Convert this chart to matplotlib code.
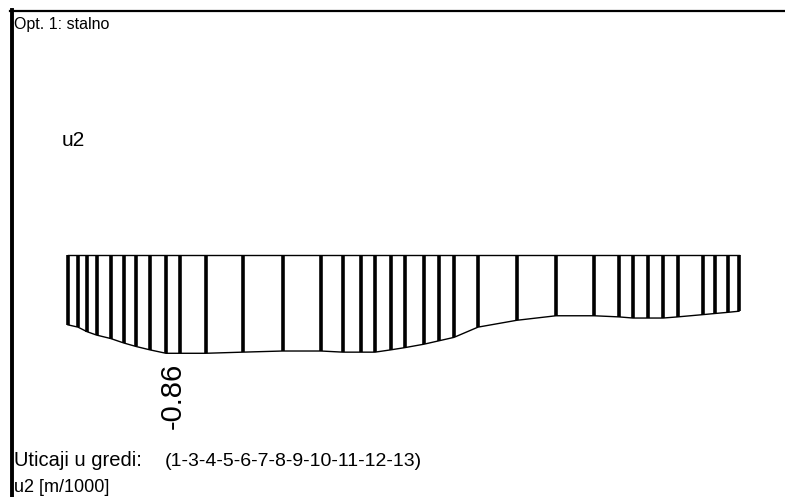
import numpy as np
import matplotlib
matplotlib.use("Agg")
import matplotlib.pyplot as plt
from matplotlib.lines import Line2D

plt.rcParams['font.family'] = ['Liberation Sans', 'DejaVu Sans']

# stanice duz grede (m) i pomeranja u2 [m/1000]
stations = [0.0, 0.5, 0.95, 1.43, 2.13, 2.8, 3.4, 4.1, 4.9, 5.6, 6.88, 8.73,
            10.73, 12.65, 13.75, 14.63, 15.35, 16.13, 16.85, 17.8, 18.55, 19.3,
            20.5, 22.43, 24.4, 26.3, 27.55, 28.25, 29.0, 29.75, 30.48, 31.75,
            32.35, 32.98, 33.55]
u2 = [-0.61, -0.63, -0.67, -0.70, -0.73, -0.77, -0.80, -0.83, -0.86, -0.86,
      -0.86, -0.85, -0.84, -0.84, -0.85, -0.85, -0.85, -0.83, -0.81, -0.78,
      -0.75, -0.72, -0.63, -0.57, -0.53, -0.53, -0.54, -0.55, -0.55, -0.55,
      -0.54, -0.52, -0.51, -0.50, -0.49]

title = "Opt. 1: stalno"
comp = "u2"
beams_lbl = "Uticaji u gredi:"
beams = "(1-3-4-5-6-7-8-9-10-11-12-13)"
unit = "u2 [m/1000]"

W, H = 785, 497
fig = plt.figure(figsize=(W / 100, H / 100), dpi=100)
fig.patch.set_facecolor("white")

def fx(x):
    return x / W

def fy(y):
    return 1 - y / H

# okvir
fig.add_artist(Line2D([fx(10), 1], [fy(11), fy(11)], color="black", lw=1.6))
fig.add_artist(Line2D([fx(12), fx(12)], [fy(10), 0], color="black", lw=2.8))

# dijagram
x = np.array(stations)
u = np.array(u2)
ax = fig.add_axes([fx(68), fy(365), fx(739) - fx(68), fy(245) - fy(365)])
ax.set_xlim(x[0], x[-1])
ax.set_ylim(-0.963, 0.0923)
ax.axis("off")
ax.plot(x, np.zeros_like(x), color="black", lw=1.0, clip_on=False)
ax.plot(x, u, color="black", lw=1.0, clip_on=False)
ax.vlines(x, u, 0, color="black", lw=2.6, clip_on=False)

imin = int(np.argmin(u))
ax.annotate(f"{u[imin]:.2f}", xy=(x[imin], u[imin]), xytext=(7, -9),
            textcoords="offset pixels", rotation=90, ha="center", va="top",
            fontsize=21, annotation_clip=False)

fig.text(fx(14), fy(25), title, fontsize=11.5, va="center", ha="left")
fig.text(fx(62), fy(140), comp, fontsize=15, va="center", ha="left")
fig.text(fx(14), fy(461), beams_lbl, fontsize=14.5, va="center", ha="left")
fig.text(fx(165), fy(461), beams, fontsize=14, va="center", ha="left")
fig.text(fx(14), fy(487), unit, fontsize=13, va="center", ha="left")

fig.savefig("out.png", dpi=100)
